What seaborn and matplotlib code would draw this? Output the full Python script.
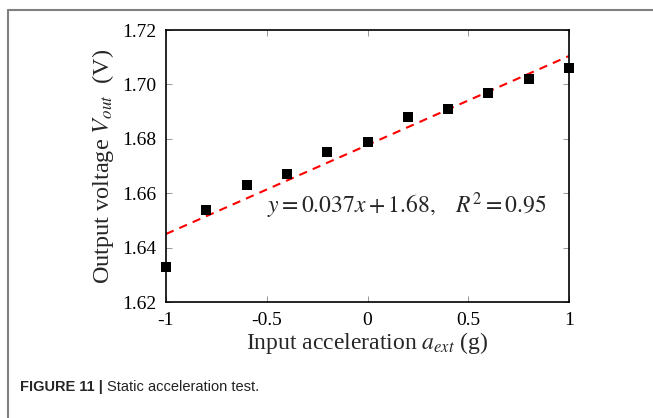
import numpy as np
import pandas as pd
import seaborn as sns
import matplotlib.pyplot as plt
from matplotlib.lines import Line2D

accel = [-1.0, -0.8, -0.6, -0.4, -0.2, 0.0, 0.2, 0.4, 0.6, 0.8, 1.0]
vout = [1.633, 1.654, 1.663, 1.667, 1.675, 1.679, 1.688, 1.691, 1.697, 1.702, 1.706]
xticks = [-1, -0.5, 0, 0.5, 1]
xtick_labels = ["-1", "-0.5", "0", "0.5", "1"]
yticks = [1.62, 1.64, 1.66, 1.68, 1.70, 1.72]
ytick_labels = ["1.62", "1.64", "1.66", "1.68", "1.70", "1.72"]

df = pd.DataFrame({"accel": accel, "vout": vout})

sns.set_style("ticks")
plt.rcParams["font.family"] = ["Liberation Serif", "DejaVu Serif"]
plt.rcParams["mathtext.fontset"] = "stix"
plt.rcParams["axes.unicode_minus"] = False

fig = plt.figure(figsize=(6.53, 4.18), dpi=100)
ax = fig.add_axes([0.2542, 0.2775, 0.6172, 0.6507])

# linear fit, dashed red
sns.regplot(data=df, x="accel", y="vout", ax=ax, ci=None, scatter=False,
            line_kws=dict(color="red", lw=1.5, ls=(0, (4, 3))))
sns.scatterplot(data=df, x="accel", y="vout", ax=ax, marker="s", s=55,
                color="black", edgecolor="black", linewidth=0, zorder=5,
                clip_on=False)

ax.set_xlim(-1, 1)
ax.set_ylim(1.62, 1.72)
ax.set_xticks(xticks)
ax.set_xticklabels(xtick_labels)
ax.set_yticks(yticks)
ax.set_yticklabels(ytick_labels)
ax.tick_params(direction="in", length=4, width=0.6, color="#888888",
               labelsize=14, top=True, right=True, pad=7, labelcolor="black")
for sp in ax.spines.values():
    sp.set_linewidth(1.2)
    sp.set_color("black")

ax.set_xlabel(r"Input acceleration $a_{ext}$ (g)", fontsize=17, labelpad=1)
ax.set_ylabel(r"Output voltage $V_{out}$  (V)", fontsize=17.5, labelpad=4)

ax.text(0.196, 1.6555, r"$y = 0.037x + 1.68,\quad R^2 = 0.95$", fontsize=17,
        ha="center", va="center")

# figure frame (gray lines at top and left)
fig.add_artist(Line2D([8 / 653, 1], [1 - 9.5 / 418, 1 - 9.5 / 418],
                      color="#808080", lw=1.5, transform=fig.transFigure))
fig.add_artist(Line2D([8 / 653, 8 / 653], [0, 1 - 9.5 / 418],
                      color="#808080", lw=1.5, transform=fig.transFigure))

# caption
t1 = fig.text(20 / 653, 1 - 387 / 418, "FIGURE 11 |", fontsize=10.5,
              fontweight="bold", family="Liberation Sans", va="center")
fig.canvas.draw()
bb = t1.get_window_extent()
fig.text(bb.x1 / fig.bbox.width + 4 / 653, 1 - 387 / 418,
         "Static acceleration test.", fontsize=10.5, family="Liberation Sans",
         va="center", color="#222222")

fig.savefig("out.png", dpi=100)
